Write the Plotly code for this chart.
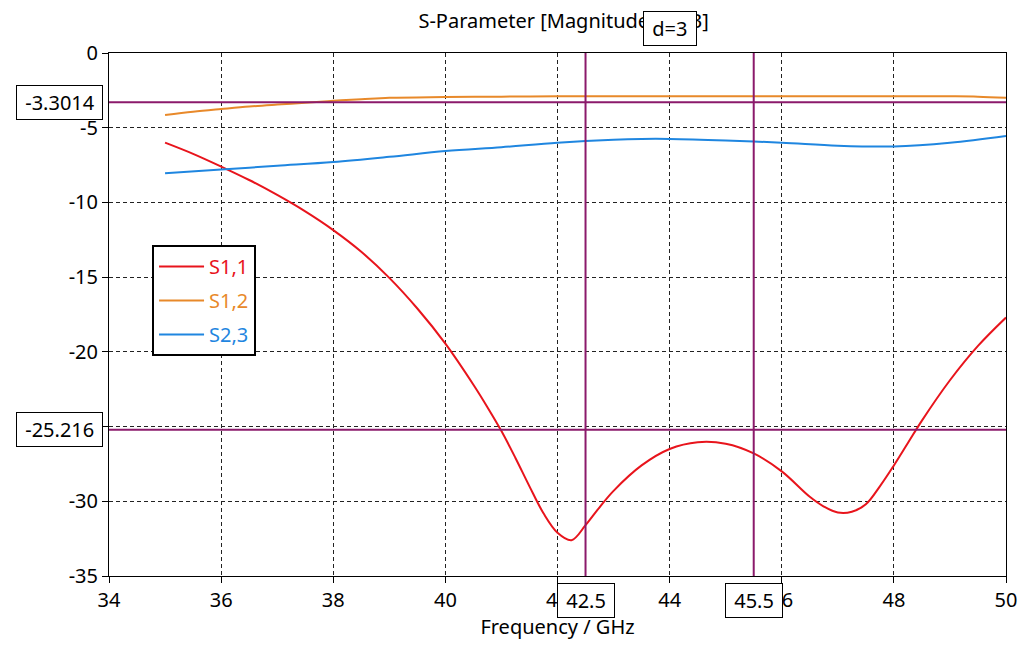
import plotly.graph_objects as go

freq_s11 = [35, 35.5, 36, 36.5, 37, 37.5, 38, 38.5, 39, 39.5, 40, 40.5, 40.75, 41, 41.25,
            41.5, 41.75, 42, 42.25, 42.5, 42.75, 43, 43.5, 44, 44.5, 45, 45.5, 46, 46.5,
            46.75, 47, 47.25, 47.5, 47.75, 48, 48.25, 48.5, 49, 49.5, 50]
s11 = [-6.0, -6.75, -7.6, -8.5, -9.5, -10.6, -11.85, -13.3, -15.05, -17.1, -19.45, -22.2,
       -23.7, -25.3, -27.1, -29.0, -30.8, -32.1, -32.6, -31.6, -30.4, -29.3, -27.6, -26.5,
       -26.05, -26.15, -26.8, -28.0, -29.7, -30.35, -30.75, -30.7, -30.2, -29.0, -27.6,
       -26.1, -24.6, -21.9, -19.6, -17.7]

freq_s12 = [35, 35.5, 36, 36.5, 37, 37.5, 38, 38.5, 39, 40, 41, 42, 43, 44, 45, 46, 47, 48,
            49, 49.5, 50]
s12 = [-4.15, -3.93, -3.75, -3.58, -3.45, -3.33, -3.2, -3.1, -3.0, -2.95, -2.92, -2.9,
       -2.9, -2.9, -2.9, -2.9, -2.9, -2.9, -2.9, -2.92, -3.0]

freq_s23 = [35, 36, 37, 38, 39, 40, 41, 42, 43, 43.5, 44, 45, 46, 47, 48, 49, 50]
s23 = [-8.05, -7.8, -7.55, -7.3, -6.95, -6.56, -6.3, -6.0, -5.8, -5.75, -5.75, -5.85, -6.0,
       -6.2, -6.25, -6.0, -5.55]

marker_y = [-3.3014, -25.216]
marker_x = [42.5, 45.5]
marker_y_labels = ["-3.3014", "-25.216"]
marker_x_labels = ["42.5", "45.5"]
delta_label = "d=3"

x_ticks = [34, 36, 38, 40, 42, 44, 46, 48, 50]
y_ticks = [0, -5, -10, -15, -20, -25, -30, -35]
y_hidden = [-25]  # tick label covered by the marker box in the original

FONT = "Noto Sans"
MARK = "#8b1a6b"
RED, ORANGE, BLUE = "#e8141c", "#e8892a", "#1f86e0"
NB = "\u00a0"

fig = go.Figure()
for xs, ys, nm, col in [(freq_s11, s11, "S1,1", RED),
                        (freq_s12, s12, "S1,2", ORANGE),
                        (freq_s23, s23, "S2,3", BLUE)]:
    fig.add_trace(go.Scatter(x=xs, y=ys, mode="lines",
                             name=f"<span style='color:{col}'>{nm}</span>",
                             legendgroup=nm,
                             line=dict(color=col, width=2, shape="spline", smoothing=1.0)))

for yv in marker_y:
    fig.add_shape(type="line", xref="paper", yref="y", x0=0, x1=1, y0=yv, y1=yv,
                  line=dict(color=MARK, width=2))
for xv in marker_x:
    fig.add_shape(type="line", xref="x", yref="paper", x0=xv, x1=xv, y0=0, y1=1,
                  line=dict(color=MARK, width=2))

box = dict(bordercolor="black", borderwidth=1, bgcolor="white", borderpad=3,
           font=dict(family=FONT, size=20, color="black"), showarrow=False)
for yv, lab in zip(marker_y, marker_y_labels):
    fig.add_annotation(text=NB + lab + NB, xref="paper", yref="y", x=-0.0067, y=yv,
                       xanchor="right", yanchor="middle", **box)
for xv, lab in zip(marker_x, marker_x_labels):
    fig.add_annotation(text=NB + lab + NB, xref="x", yref="paper", x=xv, y=-0.014,
                       xanchor="center", yanchor="top", **box)
fig.add_annotation(text=NB + delta_label + NB, xref="x", yref="paper",
                   x=sum(marker_x) / 2, y=1.014,
                   xanchor="center", yanchor="bottom", **box)

fig.update_layout(
    width=1029, height=648,
    margin=dict(l=101, r=31, t=45, b=80),
    paper_bgcolor="white", plot_bgcolor="white",
    font=dict(family=FONT, size=20, color="black"),
    title=dict(text="S-Parameter [Magnitude in dB]", x=0.540, xanchor="center",
               y=0.980, yanchor="middle", font=dict(family=FONT, size=20, color="black")),
    legend=dict(x=0.048, y=0.633, xanchor="left", yanchor="top",
                bordercolor="black", borderwidth=2, bgcolor="white",
                font=dict(family=FONT, size=20), itemwidth=45,
                tracegroupgap=5),
    showlegend=True,
)
grid = dict(showgrid=True, gridcolor="#222222", griddash="4px,3px", gridwidth=1,
            showline=True, linecolor="black", linewidth=1, mirror=True,
            ticks="outside", ticklen=6, tickcolor="black", zeroline=False,
            tickfont=dict(family=FONT, size=20))
fig.update_xaxes(range=[34, 50], tickvals=x_ticks, ticktext=[str(t) for t in x_ticks],
                 title=dict(text="Frequency / GHz", font=dict(family=FONT, size=20), standoff=2),
                 **grid)
fig.update_yaxes(range=[-35, 0], tickvals=y_ticks,
                 ticktext=["" if t in y_hidden else str(t) for t in y_ticks],
                 **grid)

fig.write_html("out.html")
